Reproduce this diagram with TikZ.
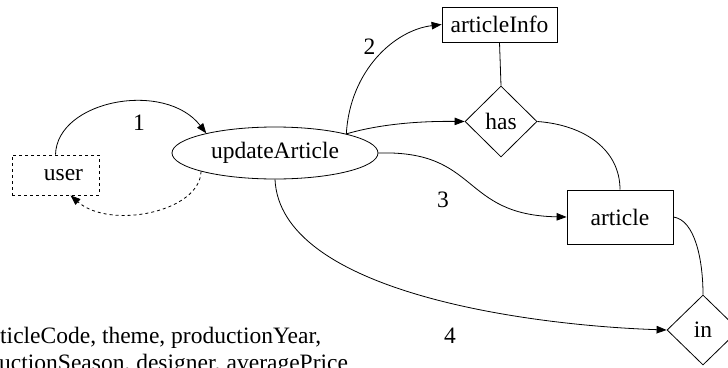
\documentclass[tikz,border=0pt]{standalone}
\usepackage{fontspec}
\setmainfont{Liberation Serif}
\usetikzlibrary{shapes.geometric,arrows.meta}
\begin{document}
\begin{tikzpicture}[x=1pt,y=-1pt,
  every node/.style={font=\fontsize{23.5}{27}\selectfont},
  edge/.style={line width=0.8pt},
  arr/.style={edge,-{Triangle[length=10pt,width=7.5pt]}},
  box/.style={draw,line width=0.8pt,rectangle,inner sep=0pt},
  rel/.style={draw,line width=0.8pt,diamond,inner sep=0pt,minimum width=72pt,minimum height=71pt},
  lbl/.style={inner sep=0pt}]
\useasboundingbox (0,0) rectangle (728,367);
\clip (0,0) rectangle (728,367);
% nodes
\node[box,dashed,minimum width=87pt,minimum height=40pt] (user) at (55.5,175) {\hspace{16pt}user};
\node[draw,line width=0.8pt,ellipse,inner sep=0pt,minimum width=206pt,minimum height=52pt] (ua) at (275,153) {updateArticle};
\node[box,minimum width=115pt,minimum height=35pt] (ai) at (499.5,24.5) {articleInfo};
\node[rel] (has) at (501,121.5) {has};
\node[box,minimum width=106pt,minimum height=54pt] (art) at (620,217) {article};
\node[rel,minimum height=70pt] (in) at (703,330) {in};
% labels
\node[lbl] (l1) at (139,122.5) {1};
\node[lbl] (l2) at (369.5,46.5) {2};
\node[lbl] (l3) at (443,199.5) {3};
\node[lbl] (l4) at (450,336) {4};
\node[lbl,anchor=base west] (t1) at (0,343) {ticleCode, theme, productionYear,};
\node[lbl,anchor=base west] (t2) at (-1,370.5) {uctionSeason, designer, averagePrice};
% edges
\draw[arr] (user.north) .. controls (57,100) and (165,80) .. (ua.164);
\draw[arr,dashed] (ua.194) .. controls (200,212) and (110,230) .. ([xshift=15pt]user.south);
\draw[arr] (ua.15) .. controls (350,70) and (395,30) .. (ai.west);
\draw[arr] (ua.15) .. controls (380,124) and (420,121) .. (has.west);
\draw[arr] (ua.east) .. controls (480,150) and (460,215) .. (art.west);
\draw[edge] (ai.south) -- (has.north);
\draw[edge] (has.east) .. controls (585,125) and (620,150) .. (art.north);
\draw[edge] (art.east) .. controls (695,220) and (703,260) .. (in.north);
\draw[arr] (ua.south) .. controls (280,290) and (520,325) .. (in.west);
\end{tikzpicture}
\end{document}
